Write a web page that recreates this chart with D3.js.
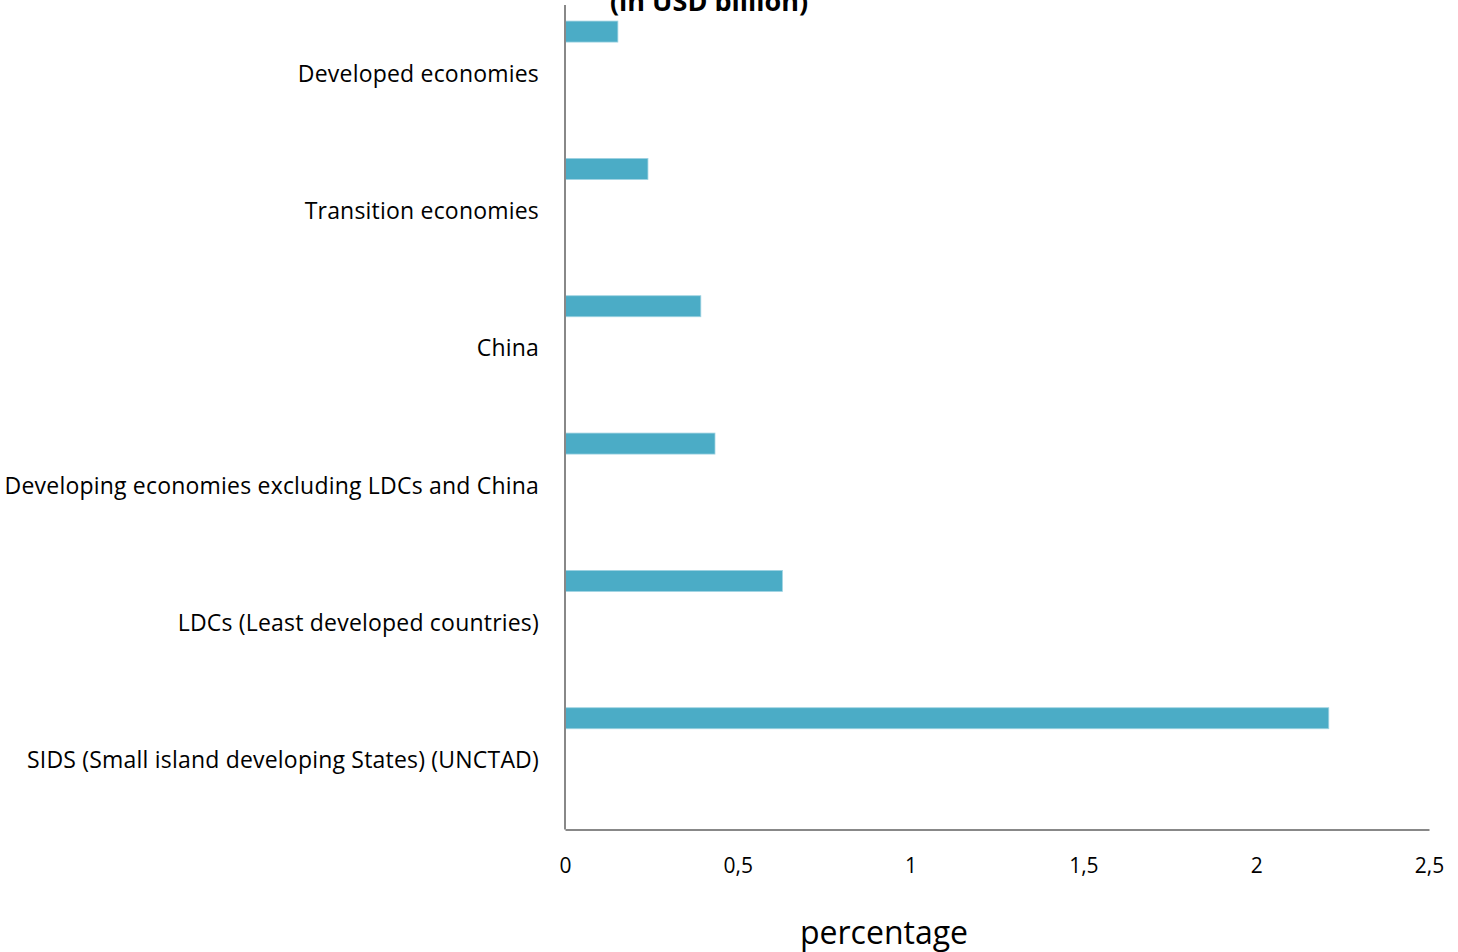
<!DOCTYPE html>
<html><head><meta charset="utf-8">
<script src="https://cdn.jsdelivr.net/npm/d3@7"></script>
<style>body{margin:0;background:#fff;} svg{display:block;font-family:"Open Sans", Lato, sans-serif;}</style>
</head><body>
<svg id="c" width="1458" height="952"></svg>
<script>
const categories = ["Developed economies","Transition economies","China","Developing economies excluding LDCs and China","LDCs (Least developed countries)","SIDS (Small island developing States) (UNCTAD)"];
const values = [0.153, 0.240, 0.393, 0.434, 0.629, 2.21];
const xTicks = [0, 0.5, 1, 1.5, 2, 2.5];
const tickLabels = ["0","0,5","1","1,5","2","2,5"];
const titleText = "(in USD billion)";
const xTitle = "percentage";

const svg = d3.select("#c");
const x = d3.scaleLinear().domain([0, 2.5]).range([565, 1429]);
const y = d3.scaleBand().domain(categories).range([5, 829]);
const bw = y.bandwidth();

svg.append("text").attr("x", 709).attr("y", 11).attr("text-anchor","middle")
  .attr("font-weight","bold").attr("font-size", 27).attr("fill","#000").text(titleText);

svg.selectAll("rect.bar").data(categories).join("rect").attr("class","bar")
  .attr("x", x(0)).attr("y", d => y(d) + bw*0.117)
  .attr("width", (d,i) => x(values[i]) - x(0)).attr("height", bw*0.153)
  .attr("fill","#4BACC6").attr("stroke","#9fd3e2").attr("stroke-width",0.8);

svg.selectAll("text.cat").data(categories).join("text").attr("class","cat")
  .attr("x", 539).attr("y", d => y(d) + bw/2).attr("dy","0.35em")
  .attr("text-anchor","end").attr("font-size", 23).attr("letter-spacing", "0.2px")
  .attr("fill","#000").text(d => d);

// axes
svg.append("line").attr("x1", x(0)).attr("x2", x(0)).attr("y1", 5).attr("y2", 829.5)
  .attr("stroke","#888").attr("stroke-width",2);
const xa = d3.axisBottom(x).tickValues(xTicks).tickSize(0).tickPadding(29)
  .tickFormat((d,i) => tickLabels[i]);
const g = svg.append("g").attr("transform","translate(0,829.5)").call(xa);
g.select(".domain").attr("stroke","#888").attr("stroke-width",2);
g.selectAll("text").attr("font-size",21).attr("fill","#000").attr("font-family","'Open Sans', Lato, sans-serif");

svg.append("text").attr("x", 884).attr("y", 944).attr("text-anchor","middle")
  .attr("font-size", 32).attr("fill","#000").text(xTitle);
</script>
</body></html>
